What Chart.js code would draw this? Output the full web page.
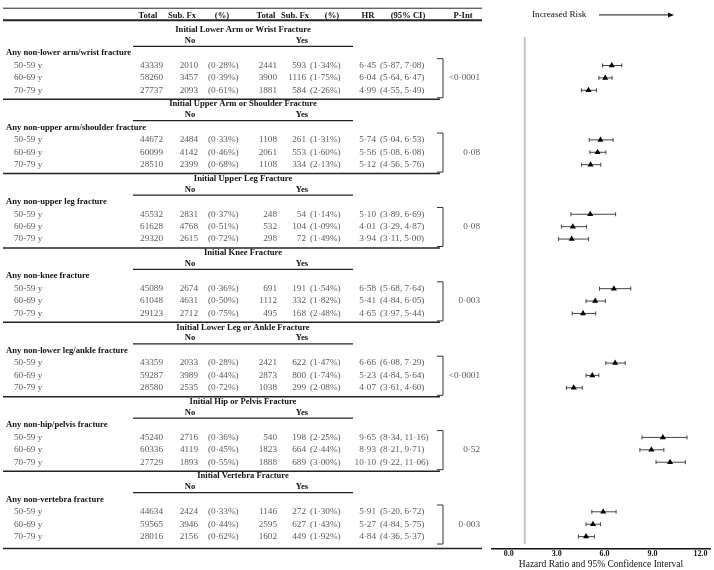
<!DOCTYPE html>
<html>
<head>
<meta charset="utf-8">
<script src="https://cdn.jsdelivr.net/npm/chart.js@4.4.1/dist/chart.umd.min.js"></script>
<style>
  html, body { margin: 0; padding: 0; background: #fff; }
  #wrap { width: 714px; height: 570px; }
</style>
</head>
<body>
<div id="wrap"><canvas id="chart"></canvas></div>
<script>
const groupTitles = [
  'Initial Lower Arm or Wrist Fracture',
  'Initial Upper Arm or Shoulder Fracture',
  'Initial Upper Leg Fracture',
  'Initial Knee Fracture',
  'Initial Lower Leg or Ankle Fracture',
  'Initial Hip or Pelvis Fracture',
  'Initial Vertebra Fracture'
];
const categoryLabels = [
  'Any non-lower arm/wrist fracture',
  'Any non-upper arm/shoulder fracture',
  'Any non-upper leg fracture',
  'Any non-knee fracture',
  'Any non-lower leg/ankle fracture',
  'Any non-hip/pelvis fracture',
  'Any non-vertebra fracture'
];
const ageBands = ['50-59 y', '60-69 y', '70-79 y'];

// one entry per group, three age bands each
const totalNo  = [[43339, 58260, 27737], [44672, 60099, 28510], [45532, 61628, 29320], [45089, 61048, 29123], [43359, 59287, 28580], [45240, 60336, 27729], [44634, 59565, 28016]];
const subFxNo  = [[2010, 3457, 2093], [2484, 4142, 2399], [2831, 4768, 2615], [2674, 4631, 2712], [2033, 3989, 2535], [2716, 4119, 1893], [2424, 3946, 2156]];
const pctNo    = [[0.28, 0.39, 0.61], [0.33, 0.46, 0.68], [0.37, 0.51, 0.72], [0.36, 0.50, 0.75], [0.28, 0.44, 0.72], [0.36, 0.45, 0.55], [0.33, 0.44, 0.62]];
const totalYes = [[2441, 3900, 1881], [1108, 2061, 1108], [248, 532, 298], [691, 1112, 495], [2421, 2873, 1038], [540, 1823, 1888], [1146, 2595, 1602]];
const subFxYes = [[593, 1116, 584], [261, 553, 334], [54, 104, 72], [191, 332, 168], [622, 800, 299], [198, 664, 689], [272, 627, 449]];
const pctYes   = [[1.34, 1.75, 2.26], [1.31, 1.60, 2.13], [1.14, 1.09, 1.49], [1.54, 1.82, 2.48], [1.47, 1.74, 2.08], [2.25, 2.44, 3.00], [1.30, 1.43, 1.92]];
const hr       = [[6.45, 6.04, 4.99], [5.74, 5.56, 5.12], [5.10, 4.01, 3.94], [6.58, 5.41, 4.65], [6.66, 5.23, 4.07], [9.65, 8.93, 10.10], [5.91, 5.27, 4.84]];
const ciLow    = [[5.87, 5.64, 4.55], [5.04, 5.08, 4.56], [3.89, 3.29, 3.11], [5.68, 4.84, 3.97], [6.08, 4.84, 3.61], [8.34, 8.21, 9.22], [5.20, 4.84, 4.36]];
const ciHigh   = [[7.08, 6.47, 5.49], [6.53, 6.08, 5.76], [6.69, 4.87, 5.00], [7.64, 6.05, 5.44], [7.29, 5.64, 4.60], [11.16, 9.71, 11.06], [6.72, 5.75, 5.37]];
const pInt     = ['<0·0001', '0·08', '0·08', '0·003', '<0·0001', '0·52', '0·003'];
const xTicks   = [0, 3, 6, 9, 12];

// row index of a data row: header is row 0, each group takes 6 rows
const rowOf = (g, a) => 4 + 6 * g + a;
const fmt = v => v.toFixed(2).replace('.', '·');

const BOLD = 'bold 8.6px "Liberation Serif"';
const PLAIN = '9.2px "Liberation Serif"';
const DATA_COLOR = '#5a5a5a';

const points = [];
hr.forEach((vals, g) => vals.forEach((v, a) => points.push({ x: v, y: rowOf(g, a), g: g, a: a })));

function hline(ctx, x1, x2, y, w, color) {
  ctx.beginPath();
  ctx.strokeStyle = color;
  ctx.lineWidth = w;
  ctx.moveTo(x1, y);
  ctx.lineTo(x2, y);
  ctx.stroke();
}

function text(ctx, s, x, y, align, font, color) {
  ctx.font = font;
  ctx.fillStyle = color;
  ctx.textAlign = align;
  ctx.fillText(s, x, y);
}

const tablePlugin = {
  id: 'table',
  afterDraw(chart) {
    const ctx = chart.ctx;
    const ys = chart.scales.y;
    const rowY = r => ys.getPixelForValue(r);
    ctx.save();
    ctx.textBaseline = 'middle';

    // header
    const hy = rowY(0);
    hline(ctx, 3, 482, rowY(-0.62), 1, '#222');
    hline(ctx, 3, 482, rowY(0.36), 2, '#222');
    const heads = [['Total', 148], ['Sub. Fx', 182], ['(%)', 222], ['Total', 266], ['Sub. Fx', 295], ['(%)', 332], ['HR', 368], ['(95% CI)', 408], ['P-Int', 463]];
    heads.forEach(h => text(ctx, h[0], h[1], hy, 'center', BOLD, '#111'));

    groupTitles.forEach((title, g) => {
      const base = 1 + 6 * g;
      text(ctx, title, 243, rowY(base + 0.12), 'center', BOLD, '#111');
      text(ctx, 'No', 190, rowY(base + 1), 'center', BOLD, '#111');
      text(ctx, 'Yes', 302, rowY(base + 1), 'center', BOLD, '#111');
      hline(ctx, 133, 353, rowY(base + 1.45), 1.2, '#222');
      text(ctx, categoryLabels[g], 6, rowY(base + 2), 'left', BOLD, '#111');

      ageBands.forEach((age, a) => {
        const y = rowY(rowOf(g, a));
        text(ctx, age, 14, y, 'left', PLAIN, DATA_COLOR);
        text(ctx, String(totalNo[g][a]), 163, y, 'right', PLAIN, DATA_COLOR);
        text(ctx, String(subFxNo[g][a]), 198, y, 'right', PLAIN, DATA_COLOR);
        text(ctx, '(' + fmt(pctNo[g][a]) + '%)', 208, y, 'left', PLAIN, DATA_COLOR);
        text(ctx, String(totalYes[g][a]), 277, y, 'right', PLAIN, DATA_COLOR);
        text(ctx, String(subFxYes[g][a]), 306, y, 'right', PLAIN, DATA_COLOR);
        text(ctx, '(' + fmt(pctYes[g][a]) + '%)', 310, y, 'left', PLAIN, DATA_COLOR);
        text(ctx, fmt(hr[g][a]), 376, y, 'right', PLAIN, DATA_COLOR);
        text(ctx, '(' + fmt(ciLow[g][a]) + ', ' + fmt(ciHigh[g][a]) + ')', 380, y, 'left', PLAIN, DATA_COLOR);
      });

      // bracket and interaction p-value
      const top = rowY(rowOf(g, 0) - 0.55);
      const bot = rowY(rowOf(g, 2) + 0.6);
      ctx.beginPath();
      ctx.strokeStyle = '#333';
      ctx.lineWidth = 1;
      ctx.moveTo(437, top);
      ctx.lineTo(443, top);
      ctx.lineTo(443, bot);
      ctx.lineTo(437, bot);
      ctx.stroke();
      text(ctx, pInt[g], 480, rowY(rowOf(g, 1)), 'right', PLAIN, DATA_COLOR);

      if (g < groupTitles.length - 1) {
        hline(ctx, 3, 440, rowY(rowOf(g, 2) + 0.72), 1.5, '#222');
      } else {
        hline(ctx, 3, 482, rowY(rowOf(g, 2) + 0.96), 1.5, '#222');
      }
    });

    // "Increased Risk" arrow
    const ay = rowY(-0.08);
    text(ctx, 'Increased Risk', 532, ay, 'left', '9.2px "Liberation Serif"', '#111');
    hline(ctx, 599, 670, ay, 1, '#111');
    ctx.beginPath();
    ctx.fillStyle = '#111';
    ctx.moveTo(674, ay);
    ctx.lineTo(668, ay - 2.5);
    ctx.lineTo(668, ay + 2.5);
    ctx.closePath();
    ctx.fill();
    ctx.restore();
  }
};

const ciPlugin = {
  id: 'ci',
  beforeDatasetsDraw(chart) {
    const ctx = chart.ctx;
    const xs = chart.scales.x;
    const ys = chart.scales.y;
    ctx.save();
    // reference line at HR = 1
    const x1 = xs.getPixelForValue(1);
    ctx.beginPath();
    ctx.strokeStyle = '#c4c4c4';
    ctx.lineWidth = 2;
    ctx.moveTo(x1, ys.getPixelForValue(1.7));
    ctx.lineTo(x1, ys.getPixelForValue(42.6));
    ctx.stroke();

    ctx.strokeStyle = '#444';
    ctx.lineWidth = 1;
    points.forEach(p => {
      const y = ys.getPixelForValue(p.y);
      const lo = xs.getPixelForValue(ciLow[p.g][p.a]);
      const hi = xs.getPixelForValue(ciHigh[p.g][p.a]);
      ctx.beginPath();
      ctx.moveTo(lo, y);
      ctx.lineTo(hi, y);
      ctx.moveTo(lo, y - 2);
      ctx.lineTo(lo, y + 2);
      ctx.moveTo(hi, y - 2);
      ctx.lineTo(hi, y + 2);
      ctx.stroke();
    });
    ctx.restore();
  }
};

new Chart(document.getElementById('chart'), {
  type: 'scatter',
  data: {
    datasets: [{
      data: points,
      pointStyle: 'triangle',
      pointRadius: 3.5,
      backgroundColor: '#000',
      borderColor: '#000',
      borderWidth: 0
    }]
  },
  options: {
    responsive: true,
    maintainAspectRatio: false,
    animation: false,
    layout: { padding: { left: 492, right: 0, top: 0, bottom: 0 } },
    plugins: { legend: { display: false }, tooltip: { enabled: false } },
    scales: {
      x: {
        type: 'linear',
        min: -1.05,
        max: 12.6,
        afterBuildTicks: axis => { axis.ticks = xTicks.map(v => ({ value: v })); },
        grid: { drawOnChartArea: false, drawTicks: false },
        border: { display: true, color: '#111', width: 1.5 },
        ticks: {
          padding: 1,
          color: '#111',
          font: { family: 'Liberation Serif', size: 8, weight: 'bold', lineHeight: 1 },
          callback: v => v.toFixed(1)
        },
        title: {
          display: true,
          text: 'Hazard Ratio and 95% Confidence Interval',
          color: '#111',
          padding: { top: 1, bottom: 1 },
          font: { family: 'Liberation Serif', size: 9.5, lineHeight: 1 }
        }
      },
      y: {
        type: 'linear',
        display: false,
        reverse: true,
        min: -0.96,
        max: 42.96
      }
    }
  },
  plugins: [ciPlugin, tablePlugin]
});
</script>
</body>
</html>
